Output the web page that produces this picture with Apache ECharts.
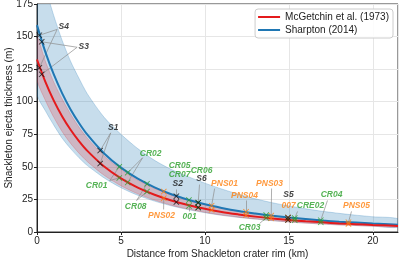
<!DOCTYPE html>
<html>
<head>
<meta charset="utf-8">
<script src="https://cdn.jsdelivr.net/npm/echarts@6/dist/echarts.min.js"></script>
<style>
  html, body { margin: 0; padding: 0; background: #fff; }
  #chart { width: 400px; height: 260px; }
</style>
</head>
<body>
<div id="chart"></div>
<script>
// curves: distance from rim (km) -> ejecta thickness (m)
const dist      = [0, 0.5, 1, 1.5, 2, 2.5, 3, 4, 5, 6, 7, 8, 9, 10, 11, 12, 13, 14, 15, 16, 17, 18, 19, 20, 21.5];
const mcgetchin = [132.4, 115.2, 100.8, 88.7, 78.5, 69.8, 62.3, 50.3, 41.2, 34.1, 28.6, 24.2, 20.7, 17.8, 15.4, 13.5, 11.8, 10.4, 9.2, 8.2, 7.4, 6.6, 6.0, 5.4, 4.7];
const mcgLow    = [117, 101, 88, 77, 68, 60.5, 54, 43.5, 35.5, 29.3, 24.5, 20.6, 17.6, 15.1, 13, 11.4, 10, 8.8, 7.7, 6.8, 6.1, 5.4, 4.9, 4.4, 3.8];
const mcgHigh   = [150, 131, 115, 102, 90.5, 80.5, 72, 58.3, 48, 39.8, 33.5, 28.4, 24.4, 21, 18.2, 15.9, 14, 12.4, 11, 9.8, 8.8, 7.9, 7.2, 6.5, 5.7];
const sharpton  = [158.8, 138.1, 120.9, 106.4, 94.1, 83.7, 74.7, 60.3, 49.4, 40.9, 34.3, 29.0, 24.8, 21.3, 18.5, 16.1, 14.2, 12.5, 11.1, 9.9, 8.8, 7.9, 7.2, 6.5, 5.6];
const shLow     = [106, 93, 82, 72, 64, 57, 51, 41.5, 34, 28.2, 23.7, 20.1, 17.2, 14.8, 12.8, 11.2, 9.9, 8.7, 7.7, 6.9, 6.1, 5.5, 5.0, 4.5, 3.7];
const shHigh    = [215, 188, 166, 147, 131, 118, 106, 88, 75, 64, 55, 48, 42.5, 37.5, 33, 29, 25.5, 22.5, 20, 17.8, 15.9, 14.3, 12.9, 11.7, 10.1];

// sample sites: distance, thickness on each curve, group
const siteName  = ['S4', 'S3', 'S1', 'CR01', 'CR02', 'CR08', 'PNS02', 'S2', '001', 'CR06', 'S6', 'PNS01', 'PNS04', 'CR03', 'PNS03', '007', 'S5', 'CRE02', 'CR04', 'PNS05'];
const siteDist  = [0.14, 0.28, 3.76, 4.9, 5.4, 6.55, 7.55, 8.3, 9.05, 9.6, 9.6, 10.4, 12.45, 13.65, 13.95, 14.95, 14.95, 15.35, 16.9, 18.55];
const siteBlue  = [151, 146, 62.5, 50, 45.5, 37, 31, 27.5, 24.5, 22.5, 22.5, 20.2, 15.5, 13, 12.6, 11.1, 11.1, 10.7, 9, 7.5];
const siteRed   = [126, 121, 52.5, 41.5, 38, 31, 26, 23, 20, 18.8, 18.8, 17, 13, 10.9, 10.5, 9.3, 9.3, 9, 7.5, 6.2];
const siteGroup = ['k', 'k', 'k', 'g', 'g', 'g', 'o', 'k', 'g', 'g', 'k', 'o', 'o', 'g', 'o', 'o', 'k', 'g', 'g', 'o'];

// annotation text, where it sits, and where its leader starts (null = no leader)
const labelText  = ['S4', 'S3', 'S1', 'CR01', 'CR02', 'CR08', 'PNS02', 'S2', 'CR05', 'CR07', '001', 'CR06', 'S6', 'PNS01', 'PNS04', 'CR03', 'PNS03', 'S5', '007', 'CRE02', 'CR04', 'PNS05'];
const labelX     = [1.59, 2.78, 4.54, 3.55, 6.77, 5.88, 7.42, 8.38, 8.49, 8.49, 9.09, 9.8, 9.8, 11.17, 12.36, 12.66, 13.85, 14.98, 14.98, 16.29, 17.54, 19.03];
const labelY     = [157.8, 142.5, 79.9, 35.3, 60.5, 19.6, 12.7, 37.2, 51.3, 43.7, 11.6, 47.1, 40.6, 37.2, 28, 3.6, 37.2, 28.4, 20.4, 20.4, 28.4, 20.4];
const leadX      = [1.2, 2.39, 4.39, 4.33, 6.29, 5.93, 7.54, 8.32, null, null, 9.06, null, 9.68, 10.58, 12.45, 13.26, 13.97, null, null, 15.52, 17.3, 18.73];
const leadY      = [155.5, 141.8, 76.1, 39.5, 57, 24.2, 17.3, 32.6, null, null, 15.8, null, 36.4, 33.4, 24.2, 6.6, 33.4, null, null, 15.8, 24.2, 15.8];
const leadBoth   = ['S4', 'S3', 'S1', 'CR01', 'CR02', 'CR08'];

const colors = { k: '#111111', g: '#2ca02c', o: '#ff7f0e' };
const RED = '#e41a1c';
const BLUE = '#1f77b4';
const CROSS = 'path://M1,0L5,4L9,0L10,1L6,5L10,9L9,10L5,6L1,10L0,9L4,5L0,1Z';

const pairs = (xs, ys) => xs.map((x, i) => [x, ys[i]]);

// shaded uncertainty band, clipped to the plot area
function band(lo, hi, fill, edge) {
  return {
    type: 'custom', data: [[0, 0]], silent: true, z: 1,
    renderItem: (params, api) => {
      const top = dist.map((d, i) => api.coord([d, hi[i]]));
      const bot = dist.map((d, i) => api.coord([d, lo[i]])).reverse();
      const cs = params.coordSys;
      return {
        type: 'group',
        clipPath: { type: 'rect', shape: { x: cs.x, y: cs.y, width: cs.width, height: cs.height } },
        children: [{
          type: 'polygon',
          shape: { points: top.concat(bot), smooth: 0.25 },
          style: { fill: fill, stroke: edge, lineWidth: 0.8 }
        }]
      };
    }
  };
}

// leader lines from label to marker(s)
const leaders = [];
labelText.forEach((t, i) => {
  if (leadX[i] === null) return;
  const s = siteName.indexOf(t);
  if (s < 0) return;
  const start = [leadX[i], leadY[i]];
  if (leadBoth.includes(t)) {
    leaders.push({ coords: [start, [siteDist[s], siteBlue[s]]] });
    leaders.push({ coords: [start, [siteDist[s], siteRed[s]]] });
  } else {
    const target = leadY[i] > siteBlue[s] ? siteBlue[s] : siteRed[s];
    leaders.push({ coords: [start, [siteDist[s], target]] });
  }
});

const markerSeries = ['o', 'g', 'k'].map(grp => {
  const data = [];
  siteName.forEach((n, i) => {
    if (siteGroup[i] !== grp) return;
    data.push([siteDist[i], siteBlue[i]]);
    data.push([siteDist[i], siteRed[i]]);
  });
  return {
    type: 'scatter', data: data, symbol: CROSS, symbolSize: 6,
    itemStyle: { color: colors[grp] }, silent: true, z: 4
  };
});

function groupOf(t) {
  const s = siteName.indexOf(t);
  if (s >= 0) return siteGroup[s];
  return 'g';
}

const labelData = labelText.map((t, i) => ({
  value: [labelX[i], labelY[i]],
  name: t,
  label: { color: colors[groupOf(t)] }
}));

const chart = echarts.init(document.getElementById('chart'));
chart.setOption({
  animation: false,
  grid: {
    left: 37, right: 2, top: 4, bottom: 28,
    outerBoundsMode: 'none',
    show: true, borderColor: '#333', borderWidth: 1
  },
  legend: {
    right: 7, top: 9, orient: 'vertical',
    data: ['McGetchin et al. (1973)', 'Sharpton (2014)'],
    icon: 'rect', itemWidth: 22, itemHeight: 2, itemGap: 3,
    padding: [3, 4, 3, 3],
    borderColor: '#cccccc', borderWidth: 1, borderRadius: 3,
    backgroundColor: 'rgba(255,255,255,0.85)',
    textStyle: { fontSize: 10, color: '#222', fontFamily: 'Liberation Sans' }
  },
  xAxis: {
    type: 'value', min: 0, max: 21.5, interval: 5,
    name: 'Distance from Shackleton crater rim (km)',
    nameLocation: 'middle', nameGap: 17, nameMoveOverlap: false,
    nameTextStyle: { fontSize: 10, color: '#222', fontFamily: 'Liberation Sans' },
    axisLine: { show: true, onZero: false, lineStyle: { color: '#222' } },
    axisTick: { show: true, length: 3, lineStyle: { color: '#222' } },
    axisLabel: { fontSize: 10, color: '#222', margin: 4, fontFamily: 'Liberation Sans', showMaxLabel: false },
    splitLine: { show: true, lineStyle: { color: '#e6e6e6', width: 1 } }
  },
  yAxis: {
    type: 'value', min: 0, max: 175, interval: 25,
    name: 'Shackleton ejecta thickness (m)',
    nameLocation: 'middle', nameGap: 23, nameMoveOverlap: false,
    nameTextStyle: { fontSize: 10, color: '#222', fontFamily: 'Liberation Sans' },
    axisLine: { show: true, lineStyle: { color: '#222' } },
    axisTick: { show: true, length: 3, lineStyle: { color: '#222' } },
    axisLabel: { fontSize: 10, color: '#222', margin: 4, fontFamily: 'Liberation Sans' },
    splitLine: { show: true, lineStyle: { color: '#e6e6e6', width: 1 } }
  },
  series: [
    band(shLow, shHigh, 'rgba(31,119,180,0.25)', 'rgba(31,119,180,0.3)'),
    band(mcgLow, mcgHigh, 'rgba(228,26,28,0.2)', 'rgba(228,26,28,0.25)'),
    {
      name: 'Sharpton (2014)', type: 'line', data: pairs(dist, sharpton), smooth: 0.3,
      symbol: 'none', lineStyle: { color: BLUE, width: 2 }, itemStyle: { color: BLUE }, z: 3
    },
    {
      name: 'McGetchin et al. (1973)', type: 'line', data: pairs(dist, mcgetchin), smooth: 0.3,
      symbol: 'none', lineStyle: { color: RED, width: 2 }, itemStyle: { color: RED }, z: 3
    },
    {
      type: 'lines', coordinateSystem: 'cartesian2d', data: leaders, silent: true, z: 3,
      lineStyle: { color: '#8c8c8c', width: 0.7, opacity: 1 }
    },
    ...markerSeries,
    {
      type: 'scatter', data: labelData, symbolSize: 0, silent: true, z: 5,
      label: {
        show: true, position: 'inside', formatter: p => p.name,
        fontSize: 8.5, fontStyle: 'italic', fontWeight: 'bold',
        fontFamily: 'Liberation Sans'
      }
    }
  ]
});
</script>
</body>
</html>
